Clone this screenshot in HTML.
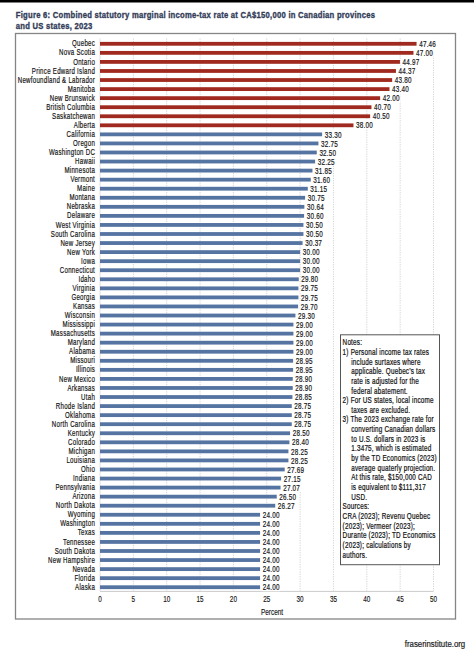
<!DOCTYPE html><html><head><meta charset="utf-8"><style>html,body{margin:0;padding:0;background:#fff;width:474px;height:649px;overflow:hidden}svg{display:block}text{font-family:"Liberation Sans",sans-serif}</style></head><body>
<svg width="474" height="649" viewBox="0 0 474 649">
<rect x="0" y="0" width="474" height="2.5" fill="#000"/>
<g transform="translate(15.8,0) scale(0.824,1)" stroke="#323c58" stroke-width="0.35" letter-spacing="0.3"><text x="0" y="17.6" font-size="9.3" font-weight="700" fill="#323c58">Figure 6: Combined statutory marginal income-tax rate at CA$150,000 in Canadian provinces</text><text x="0" y="28.7" font-size="9.3" font-weight="700" fill="#323c58">and US states, 2023</text></g>
<rect x="15.5" y="33.5" width="440" height="585.5" fill="none" stroke="#858585" stroke-width="1.3"/>
<line x1="133.35" y1="38.5" x2="133.35" y2="591" stroke="#c8c8c8" stroke-width="0.8" stroke-dasharray="1.2,1.2"/>
<line x1="166.70" y1="38.5" x2="166.70" y2="591" stroke="#c8c8c8" stroke-width="0.8" stroke-dasharray="1.2,1.2"/>
<line x1="200.05" y1="38.5" x2="200.05" y2="591" stroke="#c8c8c8" stroke-width="0.8" stroke-dasharray="1.2,1.2"/>
<line x1="233.40" y1="38.5" x2="233.40" y2="591" stroke="#c8c8c8" stroke-width="0.8" stroke-dasharray="1.2,1.2"/>
<line x1="266.75" y1="38.5" x2="266.75" y2="591" stroke="#c8c8c8" stroke-width="0.8" stroke-dasharray="1.2,1.2"/>
<line x1="300.10" y1="38.5" x2="300.10" y2="591" stroke="#c8c8c8" stroke-width="0.8" stroke-dasharray="1.2,1.2"/>
<line x1="333.45" y1="38.5" x2="333.45" y2="591" stroke="#c8c8c8" stroke-width="0.8" stroke-dasharray="1.2,1.2"/>
<line x1="366.80" y1="38.5" x2="366.80" y2="591" stroke="#c8c8c8" stroke-width="0.8" stroke-dasharray="1.2,1.2"/>
<line x1="400.15" y1="38.5" x2="400.15" y2="591" stroke="#c8c8c8" stroke-width="0.8" stroke-dasharray="1.2,1.2"/>
<line x1="433.50" y1="38.5" x2="433.50" y2="591" stroke="#c8c8c8" stroke-width="0.8" stroke-dasharray="1.2,1.2"/>
<line x1="100.00" y1="38.5" x2="100.00" y2="591" stroke="#d8d8d8" stroke-width="0.8"/>
<line x1="100.00" y1="591.4" x2="433.5" y2="591.4" stroke="#c4c4c4" stroke-width="0.9"/>
<rect x="100.0" y="41.90" width="316.56" height="3.8" fill="#a12a20"/>
<rect x="100.0" y="50.96" width="313.49" height="3.8" fill="#a12a20"/>
<rect x="100.0" y="60.01" width="299.95" height="3.8" fill="#a12a20"/>
<rect x="100.0" y="69.07" width="295.95" height="3.8" fill="#a12a20"/>
<rect x="100.0" y="78.13" width="292.15" height="3.8" fill="#a12a20"/>
<rect x="100.0" y="87.19" width="289.48" height="3.8" fill="#a12a20"/>
<rect x="100.0" y="96.24" width="280.14" height="3.8" fill="#a12a20"/>
<rect x="100.0" y="105.30" width="271.47" height="3.8" fill="#a12a20"/>
<rect x="100.0" y="114.36" width="270.13" height="3.8" fill="#a12a20"/>
<rect x="100.0" y="123.41" width="253.46" height="3.8" fill="#a12a20"/>
<rect x="100.0" y="132.47" width="222.11" height="3.8" fill="#5674a2"/>
<rect x="100.0" y="141.53" width="218.44" height="3.8" fill="#5674a2"/>
<rect x="100.0" y="150.58" width="216.78" height="3.8" fill="#5674a2"/>
<rect x="100.0" y="159.64" width="215.11" height="3.8" fill="#5674a2"/>
<rect x="100.0" y="168.70" width="212.44" height="3.8" fill="#5674a2"/>
<rect x="100.0" y="177.76" width="210.77" height="3.8" fill="#5674a2"/>
<rect x="100.0" y="186.81" width="207.77" height="3.8" fill="#5674a2"/>
<rect x="100.0" y="195.87" width="205.10" height="3.8" fill="#5674a2"/>
<rect x="100.0" y="204.93" width="204.37" height="3.8" fill="#5674a2"/>
<rect x="100.0" y="213.98" width="204.10" height="3.8" fill="#5674a2"/>
<rect x="100.0" y="223.04" width="203.44" height="3.8" fill="#5674a2"/>
<rect x="100.0" y="232.10" width="203.44" height="3.8" fill="#5674a2"/>
<rect x="100.0" y="241.15" width="202.57" height="3.8" fill="#5674a2"/>
<rect x="100.0" y="250.21" width="200.10" height="3.8" fill="#5674a2"/>
<rect x="100.0" y="259.27" width="200.10" height="3.8" fill="#5674a2"/>
<rect x="100.0" y="268.32" width="200.10" height="3.8" fill="#5674a2"/>
<rect x="100.0" y="277.38" width="198.77" height="3.8" fill="#5674a2"/>
<rect x="100.0" y="286.44" width="198.43" height="3.8" fill="#5674a2"/>
<rect x="100.0" y="295.50" width="198.43" height="3.8" fill="#5674a2"/>
<rect x="100.0" y="304.55" width="198.10" height="3.8" fill="#5674a2"/>
<rect x="100.0" y="313.61" width="195.43" height="3.8" fill="#5674a2"/>
<rect x="100.0" y="322.67" width="193.43" height="3.8" fill="#5674a2"/>
<rect x="100.0" y="331.72" width="193.43" height="3.8" fill="#5674a2"/>
<rect x="100.0" y="340.78" width="193.43" height="3.8" fill="#5674a2"/>
<rect x="100.0" y="349.84" width="193.43" height="3.8" fill="#5674a2"/>
<rect x="100.0" y="358.89" width="193.10" height="3.8" fill="#5674a2"/>
<rect x="100.0" y="367.95" width="193.10" height="3.8" fill="#5674a2"/>
<rect x="100.0" y="377.01" width="192.76" height="3.8" fill="#5674a2"/>
<rect x="100.0" y="386.07" width="192.76" height="3.8" fill="#5674a2"/>
<rect x="100.0" y="395.12" width="192.43" height="3.8" fill="#5674a2"/>
<rect x="100.0" y="404.18" width="191.76" height="3.8" fill="#5674a2"/>
<rect x="100.0" y="413.24" width="191.76" height="3.8" fill="#5674a2"/>
<rect x="100.0" y="422.29" width="191.76" height="3.8" fill="#5674a2"/>
<rect x="100.0" y="431.35" width="190.09" height="3.8" fill="#5674a2"/>
<rect x="100.0" y="440.41" width="189.43" height="3.8" fill="#5674a2"/>
<rect x="100.0" y="449.46" width="188.43" height="3.8" fill="#5674a2"/>
<rect x="100.0" y="458.52" width="188.43" height="3.8" fill="#5674a2"/>
<rect x="100.0" y="467.58" width="184.69" height="3.8" fill="#5674a2"/>
<rect x="100.0" y="476.64" width="181.09" height="3.8" fill="#5674a2"/>
<rect x="100.0" y="485.69" width="180.56" height="3.8" fill="#5674a2"/>
<rect x="100.0" y="494.75" width="176.75" height="3.8" fill="#5674a2"/>
<rect x="100.0" y="503.81" width="175.22" height="3.8" fill="#5674a2"/>
<rect x="100.0" y="512.86" width="160.08" height="3.8" fill="#5674a2"/>
<rect x="100.0" y="521.92" width="160.08" height="3.8" fill="#5674a2"/>
<rect x="100.0" y="530.98" width="160.08" height="3.8" fill="#5674a2"/>
<rect x="100.0" y="540.04" width="160.08" height="3.8" fill="#5674a2"/>
<rect x="100.0" y="549.09" width="160.08" height="3.8" fill="#5674a2"/>
<rect x="100.0" y="558.15" width="160.08" height="3.8" fill="#5674a2"/>
<rect x="100.0" y="567.21" width="160.08" height="3.8" fill="#5674a2"/>
<rect x="100.0" y="576.26" width="160.08" height="3.8" fill="#5674a2"/>
<rect x="100.0" y="585.32" width="160.08" height="3.8" fill="#5674a2"/>
<rect x="418.86" y="38.20" width="18" height="9.6" fill="#fff"/>
<rect x="415.79" y="47.26" width="18" height="9.6" fill="#fff"/>
<rect x="402.25" y="56.31" width="18" height="9.6" fill="#fff"/>
<rect x="398.25" y="65.37" width="18" height="9.6" fill="#fff"/>
<rect x="394.45" y="74.43" width="18" height="9.6" fill="#fff"/>
<rect x="391.78" y="83.48" width="18" height="9.6" fill="#fff"/>
<rect x="382.44" y="92.54" width="18" height="9.6" fill="#fff"/>
<rect x="373.77" y="101.60" width="18" height="9.6" fill="#fff"/>
<rect x="372.44" y="110.66" width="18" height="9.6" fill="#fff"/>
<rect x="355.76" y="119.71" width="18" height="9.6" fill="#fff"/>
<rect x="324.41" y="128.77" width="18" height="9.6" fill="#fff"/>
<rect x="320.74" y="137.83" width="18" height="9.6" fill="#fff"/>
<rect x="319.07" y="146.88" width="18" height="9.6" fill="#fff"/>
<rect x="317.41" y="155.94" width="18" height="9.6" fill="#fff"/>
<rect x="314.74" y="165.00" width="18" height="9.6" fill="#fff"/>
<rect x="313.07" y="174.06" width="18" height="9.6" fill="#fff"/>
<rect x="310.07" y="183.11" width="18" height="9.6" fill="#fff"/>
<rect x="307.40" y="192.17" width="18" height="9.6" fill="#fff"/>
<rect x="306.67" y="201.23" width="18" height="9.6" fill="#fff"/>
<rect x="306.40" y="210.28" width="18" height="9.6" fill="#fff"/>
<rect x="305.74" y="219.34" width="18" height="9.6" fill="#fff"/>
<rect x="305.74" y="228.40" width="18" height="9.6" fill="#fff"/>
<rect x="304.87" y="237.45" width="18" height="9.6" fill="#fff"/>
<rect x="302.40" y="246.51" width="18" height="9.6" fill="#fff"/>
<rect x="302.40" y="255.57" width="18" height="9.6" fill="#fff"/>
<rect x="302.40" y="264.62" width="18" height="9.6" fill="#fff"/>
<rect x="301.07" y="273.68" width="18" height="9.6" fill="#fff"/>
<rect x="300.73" y="282.74" width="18" height="9.6" fill="#fff"/>
<rect x="300.73" y="291.80" width="18" height="9.6" fill="#fff"/>
<rect x="300.40" y="300.85" width="18" height="9.6" fill="#fff"/>
<rect x="297.73" y="309.91" width="18" height="9.6" fill="#fff"/>
<rect x="295.73" y="318.97" width="18" height="9.6" fill="#fff"/>
<rect x="295.73" y="328.02" width="18" height="9.6" fill="#fff"/>
<rect x="295.73" y="337.08" width="18" height="9.6" fill="#fff"/>
<rect x="295.73" y="346.14" width="18" height="9.6" fill="#fff"/>
<rect x="295.40" y="355.19" width="18" height="9.6" fill="#fff"/>
<rect x="295.40" y="364.25" width="18" height="9.6" fill="#fff"/>
<rect x="295.06" y="373.31" width="18" height="9.6" fill="#fff"/>
<rect x="295.06" y="382.37" width="18" height="9.6" fill="#fff"/>
<rect x="294.73" y="391.42" width="18" height="9.6" fill="#fff"/>
<rect x="294.06" y="400.48" width="18" height="9.6" fill="#fff"/>
<rect x="294.06" y="409.54" width="18" height="9.6" fill="#fff"/>
<rect x="294.06" y="418.59" width="18" height="9.6" fill="#fff"/>
<rect x="292.40" y="427.65" width="18" height="9.6" fill="#fff"/>
<rect x="291.73" y="436.71" width="18" height="9.6" fill="#fff"/>
<rect x="290.73" y="445.76" width="18" height="9.6" fill="#fff"/>
<rect x="290.73" y="454.82" width="18" height="9.6" fill="#fff"/>
<rect x="286.99" y="463.88" width="18" height="9.6" fill="#fff"/>
<rect x="283.39" y="472.94" width="18" height="9.6" fill="#fff"/>
<rect x="282.86" y="481.99" width="18" height="9.6" fill="#fff"/>
<rect x="279.06" y="491.05" width="18" height="9.6" fill="#fff"/>
<rect x="277.52" y="500.11" width="18" height="9.6" fill="#fff"/>
<rect x="262.38" y="509.16" width="18" height="9.6" fill="#fff"/>
<rect x="262.38" y="518.22" width="18" height="9.6" fill="#fff"/>
<rect x="262.38" y="527.28" width="18" height="9.6" fill="#fff"/>
<rect x="262.38" y="536.34" width="18" height="9.6" fill="#fff"/>
<rect x="262.38" y="545.39" width="18" height="9.6" fill="#fff"/>
<rect x="262.38" y="554.45" width="18" height="9.6" fill="#fff"/>
<rect x="262.38" y="563.51" width="18" height="9.6" fill="#fff"/>
<rect x="262.38" y="572.56" width="18" height="9.6" fill="#fff"/>
<rect x="262.38" y="581.62" width="18" height="9.6" fill="#fff"/>
<g font-size="8.7" fill="#151515" stroke="#151515" stroke-width="0.2" letter-spacing="0.4">
<text transform="translate(95.1,46.40) scale(0.703,1)" text-anchor="end">Quebec</text>
<text transform="translate(419.16,46.95) scale(0.706,1)" font-size="9.0" letter-spacing="0.3">47.46</text>
<text transform="translate(95.1,55.46) scale(0.703,1)" text-anchor="end">Nova Scotia</text>
<text transform="translate(416.09,56.01) scale(0.706,1)" font-size="9.0" letter-spacing="0.3">47.00</text>
<text transform="translate(95.1,64.51) scale(0.703,1)" text-anchor="end">Ontario</text>
<text transform="translate(402.55,65.06) scale(0.706,1)" font-size="9.0" letter-spacing="0.3">44.97</text>
<text transform="translate(95.1,73.57) scale(0.703,1)" text-anchor="end">Prince Edward Island</text>
<text transform="translate(398.55,74.12) scale(0.706,1)" font-size="9.0" letter-spacing="0.3">44.37</text>
<text transform="translate(95.1,82.63) scale(0.703,1)" text-anchor="end">Newfoundland &amp; Labrador</text>
<text transform="translate(394.75,83.18) scale(0.706,1)" font-size="9.0" letter-spacing="0.3">43.80</text>
<text transform="translate(95.1,91.69) scale(0.703,1)" text-anchor="end">Manitoba</text>
<text transform="translate(392.08,92.23) scale(0.706,1)" font-size="9.0" letter-spacing="0.3">43.40</text>
<text transform="translate(95.1,100.74) scale(0.703,1)" text-anchor="end">New Brunswick</text>
<text transform="translate(382.74,101.29) scale(0.706,1)" font-size="9.0" letter-spacing="0.3">42.00</text>
<text transform="translate(95.1,109.80) scale(0.703,1)" text-anchor="end">British Columbia</text>
<text transform="translate(374.07,110.35) scale(0.706,1)" font-size="9.0" letter-spacing="0.3">40.70</text>
<text transform="translate(95.1,118.86) scale(0.703,1)" text-anchor="end">Saskatchewan</text>
<text transform="translate(372.74,119.41) scale(0.706,1)" font-size="9.0" letter-spacing="0.3">40.50</text>
<text transform="translate(95.1,127.91) scale(0.703,1)" text-anchor="end">Alberta</text>
<text transform="translate(356.06,128.46) scale(0.706,1)" font-size="9.0" letter-spacing="0.3">38.00</text>
<text transform="translate(95.1,136.97) scale(0.703,1)" text-anchor="end">California</text>
<text transform="translate(324.71,137.52) scale(0.706,1)" font-size="9.0" letter-spacing="0.3">33.30</text>
<text transform="translate(95.1,146.03) scale(0.703,1)" text-anchor="end">Oregon</text>
<text transform="translate(321.04,146.58) scale(0.706,1)" font-size="9.0" letter-spacing="0.3">32.75</text>
<text transform="translate(95.1,155.08) scale(0.703,1)" text-anchor="end">Washington DC</text>
<text transform="translate(319.38,155.63) scale(0.706,1)" font-size="9.0" letter-spacing="0.3">32.50</text>
<text transform="translate(95.1,164.14) scale(0.703,1)" text-anchor="end">Hawaii</text>
<text transform="translate(317.71,164.69) scale(0.706,1)" font-size="9.0" letter-spacing="0.3">32.25</text>
<text transform="translate(95.1,173.20) scale(0.703,1)" text-anchor="end">Minnesota</text>
<text transform="translate(315.04,173.75) scale(0.706,1)" font-size="9.0" letter-spacing="0.3">31.85</text>
<text transform="translate(95.1,182.26) scale(0.703,1)" text-anchor="end">Vermont</text>
<text transform="translate(313.37,182.81) scale(0.706,1)" font-size="9.0" letter-spacing="0.3">31.60</text>
<text transform="translate(95.1,191.31) scale(0.703,1)" text-anchor="end">Maine</text>
<text transform="translate(310.37,191.86) scale(0.706,1)" font-size="9.0" letter-spacing="0.3">31.15</text>
<text transform="translate(95.1,200.37) scale(0.703,1)" text-anchor="end">Montana</text>
<text transform="translate(307.70,200.92) scale(0.706,1)" font-size="9.0" letter-spacing="0.3">30.75</text>
<text transform="translate(95.1,209.43) scale(0.703,1)" text-anchor="end">Nebraska</text>
<text transform="translate(306.97,209.98) scale(0.706,1)" font-size="9.0" letter-spacing="0.3">30.64</text>
<text transform="translate(95.1,218.48) scale(0.703,1)" text-anchor="end">Delaware</text>
<text transform="translate(306.70,219.03) scale(0.706,1)" font-size="9.0" letter-spacing="0.3">30.60</text>
<text transform="translate(95.1,227.54) scale(0.703,1)" text-anchor="end">West Virginia</text>
<text transform="translate(306.04,228.09) scale(0.706,1)" font-size="9.0" letter-spacing="0.3">30.50</text>
<text transform="translate(95.1,236.60) scale(0.703,1)" text-anchor="end">South Carolina</text>
<text transform="translate(306.04,237.15) scale(0.706,1)" font-size="9.0" letter-spacing="0.3">30.50</text>
<text transform="translate(95.1,245.65) scale(0.703,1)" text-anchor="end">New Jersey</text>
<text transform="translate(305.17,246.20) scale(0.706,1)" font-size="9.0" letter-spacing="0.3">30.37</text>
<text transform="translate(95.1,254.71) scale(0.703,1)" text-anchor="end">New York</text>
<text transform="translate(302.70,255.26) scale(0.706,1)" font-size="9.0" letter-spacing="0.3">30.00</text>
<text transform="translate(95.1,263.77) scale(0.703,1)" text-anchor="end">Iowa</text>
<text transform="translate(302.70,264.32) scale(0.706,1)" font-size="9.0" letter-spacing="0.3">30.00</text>
<text transform="translate(95.1,272.82) scale(0.703,1)" text-anchor="end">Connecticut</text>
<text transform="translate(302.70,273.38) scale(0.706,1)" font-size="9.0" letter-spacing="0.3">30.00</text>
<text transform="translate(95.1,281.88) scale(0.703,1)" text-anchor="end">Idaho</text>
<text transform="translate(301.37,282.43) scale(0.706,1)" font-size="9.0" letter-spacing="0.3">29.80</text>
<text transform="translate(95.1,290.94) scale(0.703,1)" text-anchor="end">Virginia</text>
<text transform="translate(301.03,291.49) scale(0.706,1)" font-size="9.0" letter-spacing="0.3">29.75</text>
<text transform="translate(95.1,300.00) scale(0.703,1)" text-anchor="end">Georgia</text>
<text transform="translate(301.03,300.55) scale(0.706,1)" font-size="9.0" letter-spacing="0.3">29.75</text>
<text transform="translate(95.1,309.05) scale(0.703,1)" text-anchor="end">Kansas</text>
<text transform="translate(300.70,309.60) scale(0.706,1)" font-size="9.0" letter-spacing="0.3">29.70</text>
<text transform="translate(95.1,318.11) scale(0.703,1)" text-anchor="end">Wisconsin</text>
<text transform="translate(298.03,318.66) scale(0.706,1)" font-size="9.0" letter-spacing="0.3">29.30</text>
<text transform="translate(95.1,327.17) scale(0.703,1)" text-anchor="end">Mississippi</text>
<text transform="translate(296.03,327.72) scale(0.706,1)" font-size="9.0" letter-spacing="0.3">29.00</text>
<text transform="translate(95.1,336.22) scale(0.703,1)" text-anchor="end">Massachusetts</text>
<text transform="translate(296.03,336.77) scale(0.706,1)" font-size="9.0" letter-spacing="0.3">29.00</text>
<text transform="translate(95.1,345.28) scale(0.703,1)" text-anchor="end">Maryland</text>
<text transform="translate(296.03,345.83) scale(0.706,1)" font-size="9.0" letter-spacing="0.3">29.00</text>
<text transform="translate(95.1,354.34) scale(0.703,1)" text-anchor="end">Alabama</text>
<text transform="translate(296.03,354.89) scale(0.706,1)" font-size="9.0" letter-spacing="0.3">29.00</text>
<text transform="translate(95.1,363.39) scale(0.703,1)" text-anchor="end">Missouri</text>
<text transform="translate(295.70,363.94) scale(0.706,1)" font-size="9.0" letter-spacing="0.3">28.95</text>
<text transform="translate(95.1,372.45) scale(0.703,1)" text-anchor="end">Illinois</text>
<text transform="translate(295.70,373.00) scale(0.706,1)" font-size="9.0" letter-spacing="0.3">28.95</text>
<text transform="translate(95.1,381.51) scale(0.703,1)" text-anchor="end">New Mexico</text>
<text transform="translate(295.36,382.06) scale(0.706,1)" font-size="9.0" letter-spacing="0.3">28.90</text>
<text transform="translate(95.1,390.57) scale(0.703,1)" text-anchor="end">Arkansas</text>
<text transform="translate(295.36,391.12) scale(0.706,1)" font-size="9.0" letter-spacing="0.3">28.90</text>
<text transform="translate(95.1,399.62) scale(0.703,1)" text-anchor="end">Utah</text>
<text transform="translate(295.03,400.17) scale(0.706,1)" font-size="9.0" letter-spacing="0.3">28.85</text>
<text transform="translate(95.1,408.68) scale(0.703,1)" text-anchor="end">Rhode Island</text>
<text transform="translate(294.36,409.23) scale(0.706,1)" font-size="9.0" letter-spacing="0.3">28.75</text>
<text transform="translate(95.1,417.74) scale(0.703,1)" text-anchor="end">Oklahoma</text>
<text transform="translate(294.36,418.29) scale(0.706,1)" font-size="9.0" letter-spacing="0.3">28.75</text>
<text transform="translate(95.1,426.79) scale(0.703,1)" text-anchor="end">North Carolina</text>
<text transform="translate(294.36,427.34) scale(0.706,1)" font-size="9.0" letter-spacing="0.3">28.75</text>
<text transform="translate(95.1,435.85) scale(0.703,1)" text-anchor="end">Kentucky</text>
<text transform="translate(292.70,436.40) scale(0.706,1)" font-size="9.0" letter-spacing="0.3">28.50</text>
<text transform="translate(95.1,444.91) scale(0.703,1)" text-anchor="end">Colorado</text>
<text transform="translate(292.03,445.46) scale(0.706,1)" font-size="9.0" letter-spacing="0.3">28.40</text>
<text transform="translate(95.1,453.96) scale(0.703,1)" text-anchor="end">Michigan</text>
<text transform="translate(291.03,454.51) scale(0.706,1)" font-size="9.0" letter-spacing="0.3">28.25</text>
<text transform="translate(95.1,463.02) scale(0.703,1)" text-anchor="end">Louisiana</text>
<text transform="translate(291.03,463.57) scale(0.706,1)" font-size="9.0" letter-spacing="0.3">28.25</text>
<text transform="translate(95.1,472.08) scale(0.703,1)" text-anchor="end">Ohio</text>
<text transform="translate(287.29,472.63) scale(0.706,1)" font-size="9.0" letter-spacing="0.3">27.69</text>
<text transform="translate(95.1,481.14) scale(0.703,1)" text-anchor="end">Indiana</text>
<text transform="translate(283.69,481.69) scale(0.706,1)" font-size="9.0" letter-spacing="0.3">27.15</text>
<text transform="translate(95.1,490.19) scale(0.703,1)" text-anchor="end">Pennsylvania</text>
<text transform="translate(283.16,490.74) scale(0.706,1)" font-size="9.0" letter-spacing="0.3">27.07</text>
<text transform="translate(95.1,499.25) scale(0.703,1)" text-anchor="end">Arizona</text>
<text transform="translate(279.36,499.80) scale(0.706,1)" font-size="9.0" letter-spacing="0.3">26.50</text>
<text transform="translate(95.1,508.31) scale(0.703,1)" text-anchor="end">North Dakota</text>
<text transform="translate(277.82,508.86) scale(0.706,1)" font-size="9.0" letter-spacing="0.3">26.27</text>
<text transform="translate(95.1,517.36) scale(0.703,1)" text-anchor="end">Wyoming</text>
<text transform="translate(262.68,517.91) scale(0.706,1)" font-size="9.0" letter-spacing="0.3">24.00</text>
<text transform="translate(95.1,526.42) scale(0.703,1)" text-anchor="end">Washington</text>
<text transform="translate(262.68,526.97) scale(0.706,1)" font-size="9.0" letter-spacing="0.3">24.00</text>
<text transform="translate(95.1,535.48) scale(0.703,1)" text-anchor="end">Texas</text>
<text transform="translate(262.68,536.03) scale(0.706,1)" font-size="9.0" letter-spacing="0.3">24.00</text>
<text transform="translate(95.1,544.54) scale(0.703,1)" text-anchor="end">Tennessee</text>
<text transform="translate(262.68,545.09) scale(0.706,1)" font-size="9.0" letter-spacing="0.3">24.00</text>
<text transform="translate(95.1,553.59) scale(0.703,1)" text-anchor="end">South Dakota</text>
<text transform="translate(262.68,554.14) scale(0.706,1)" font-size="9.0" letter-spacing="0.3">24.00</text>
<text transform="translate(95.1,562.65) scale(0.703,1)" text-anchor="end">New Hampshire</text>
<text transform="translate(262.68,563.20) scale(0.706,1)" font-size="9.0" letter-spacing="0.3">24.00</text>
<text transform="translate(95.1,571.71) scale(0.703,1)" text-anchor="end">Nevada</text>
<text transform="translate(262.68,572.26) scale(0.706,1)" font-size="9.0" letter-spacing="0.3">24.00</text>
<text transform="translate(95.1,580.76) scale(0.703,1)" text-anchor="end">Florida</text>
<text transform="translate(262.68,581.31) scale(0.706,1)" font-size="9.0" letter-spacing="0.3">24.00</text>
<text transform="translate(95.1,589.82) scale(0.703,1)" text-anchor="end">Alaska</text>
<text transform="translate(262.68,590.37) scale(0.706,1)" font-size="9.0" letter-spacing="0.3">24.00</text>
</g>
<g font-size="8.5" fill="#151515" stroke="#151515" stroke-width="0.15" text-anchor="middle">
<text transform="translate(100.00,602.4) scale(0.75,1)">0</text>
<text transform="translate(133.35,602.4) scale(0.75,1)">5</text>
<text transform="translate(166.70,602.4) scale(0.75,1)">10</text>
<text transform="translate(200.05,602.4) scale(0.75,1)">15</text>
<text transform="translate(233.40,602.4) scale(0.75,1)">20</text>
<text transform="translate(266.75,602.4) scale(0.75,1)">25</text>
<text transform="translate(300.10,602.4) scale(0.75,1)">30</text>
<text transform="translate(333.45,602.4) scale(0.75,1)">35</text>
<text transform="translate(366.80,602.4) scale(0.75,1)">40</text>
<text transform="translate(400.15,602.4) scale(0.75,1)">45</text>
<text transform="translate(433.50,602.4) scale(0.75,1)">50</text>
<text transform="translate(272,615.1) scale(0.758,1)">Percent</text>
</g>
<rect x="340.5" y="334.8" width="99" height="229.9" fill="#fff" stroke="#555" stroke-width="1"/>
<g font-size="8.8" fill="#151515" stroke="#151515" stroke-width="0.25" letter-spacing="0.3">
<text transform="translate(342.6,345.20) scale(0.72,1)">Notes:</text>
<text transform="translate(342.6,354.86) scale(0.72,1)">1) Personal income tax rates</text>
<text transform="translate(351.2,364.52) scale(0.72,1)">include surtaxes where</text>
<text transform="translate(351.2,374.18) scale(0.72,1)">applicable. Quebec’s tax</text>
<text transform="translate(351.2,383.84) scale(0.72,1)">rate is adjusted for the</text>
<text transform="translate(351.2,393.50) scale(0.72,1)">federal abatement.</text>
<text transform="translate(342.6,403.16) scale(0.72,1)">2) For US states, local income</text>
<text transform="translate(351.2,412.82) scale(0.72,1)">taxes are excluded.</text>
<text transform="translate(342.6,422.48) scale(0.72,1)">3) The 2023 exchange rate for</text>
<text transform="translate(351.2,432.14) scale(0.72,1)">converting Canadian dollars</text>
<text transform="translate(351.2,441.80) scale(0.72,1)">to U.S. dollars in 2023 is</text>
<text transform="translate(351.2,451.46) scale(0.72,1)">1.3475, which is estimated</text>
<text transform="translate(351.2,461.12) scale(0.72,1)">by the TD Economics (2023)</text>
<text transform="translate(351.2,470.78) scale(0.72,1)">average quaterly projection.</text>
<text transform="translate(351.2,480.44) scale(0.72,1)">At this rate, $150,000 CAD</text>
<text transform="translate(351.2,490.10) scale(0.72,1)">is equivalent to $111,317</text>
<text transform="translate(351.2,499.76) scale(0.72,1)">USD.</text>
<text transform="translate(342.6,509.42) scale(0.72,1)">Sources:</text>
<text transform="translate(342.6,519.08) scale(0.72,1)">CRA (2023); Revenu Quebec</text>
<text transform="translate(342.6,528.74) scale(0.72,1)">(2023); Vermeer (2023);</text>
<text transform="translate(342.6,538.40) scale(0.72,1)">Durante (2023); TD Economics</text>
<text transform="translate(342.6,548.06) scale(0.72,1)">(2023); calculations by</text>
<text transform="translate(342.6,557.72) scale(0.72,1)">authors.</text>
</g>
<text transform="translate(404.8,647.4) scale(0.87,1)" font-size="9" fill="#1a1a1a" stroke="#1a1a1a" stroke-width="0.2">fraserinstitute.org</text>
</svg></body></html>
